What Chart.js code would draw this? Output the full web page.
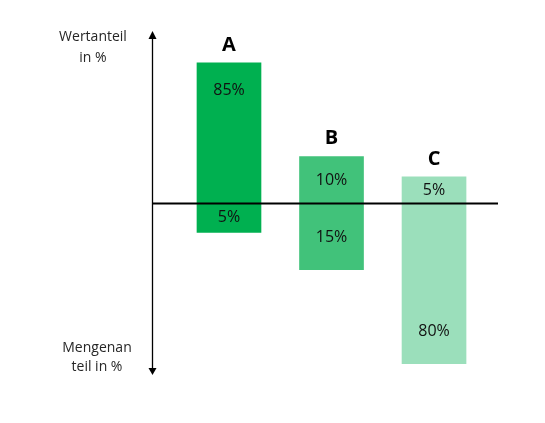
<!DOCTYPE html>
<html lang="de">
<head>
    <meta charset="UTF-8">
    <title>ABC-Analyse</title>
    <script src="https://cdn.jsdelivr.net/npm/chart.js"></script>
    <style>
        html, body { margin: 0; padding: 0; background: #fff; }
        #wrap { width: 545px; height: 423px; }
    </style>
</head>
<body>
<div id="wrap"><canvas id="abcChart"></canvas></div>
<script>
    // Klassen und Anteile (Beschriftung)
    const categories = ["A", "B", "C"];
    const valueShare = [85, 10, 5];      // Wertanteil in %
    const quantityShare = [5, 15, 80];   // Mengenanteil in %
    // gezeichnete Balkenausdehnung (schematisch, nicht maßstäblich)
    const barTop = [82, 27.3, 15.5];
    const barBottom = [-16.8, -38.6, -93.4];
    const barColors = ["#00b050", "#41c27a", "#9bdfbb"];

    const FONT = "'Open Sans', 'Liberation Sans', sans-serif";

    const decorations = {
        id: "decorations",
        afterDatasetsDraw(chart) {
            const { ctx, chartArea, scales } = chart;
            const x = scales.x, y = scales.y;
            const zero = y.getPixelForValue(0);
            const axisX = Math.round(chartArea.left) + 0.5;

            ctx.save();
            // Nulllinie
            ctx.strokeStyle = "#000";
            ctx.lineWidth = 2;
            ctx.beginPath();
            ctx.moveTo(chartArea.left, zero);
            ctx.lineTo(chartArea.right, zero);
            ctx.stroke();

            // senkrechte Achse mit Pfeilen
            ctx.lineWidth = 1.3;
            ctx.beginPath();
            ctx.moveTo(axisX, chartArea.top + 6);
            ctx.lineTo(axisX, chartArea.bottom - 6);
            ctx.stroke();
            ctx.fillStyle = "#000";
            ctx.beginPath();
            ctx.moveTo(axisX, chartArea.top - 1);
            ctx.lineTo(axisX - 4, chartArea.top + 7);
            ctx.lineTo(axisX + 4, chartArea.top + 7);
            ctx.closePath();
            ctx.fill();
            ctx.beginPath();
            ctx.moveTo(axisX, chartArea.bottom);
            ctx.lineTo(axisX - 4, chartArea.bottom - 7);
            ctx.lineTo(axisX + 4, chartArea.bottom - 7);
            ctx.closePath();
            ctx.fill();

            // Achsentitel
            ctx.fillStyle = "#262626";
            ctx.font = "14px " + FONT;
            ctx.textAlign = "center";
            ctx.textBaseline = "middle";
            const tx = chartArea.left - 59;
            ctx.fillText("Wertanteil", tx, chartArea.top + 5);
            ctx.fillText("in %", tx, chartArea.top + 26);
            ctx.fillText("Mengenan", tx + 4, chartArea.bottom - 27);
            ctx.fillText("teil in %", tx + 4, chartArea.bottom - 8);

            // Balkenbeschriftungen
            categories.forEach((c, i) => {
                const cx = x.getPixelForValue(i + 1);
                const top = y.getPixelForValue(barTop[i]);
                const bottom = y.getPixelForValue(barBottom[i]);

                ctx.fillStyle = "#000";
                ctx.font = "bold 20px " + FONT;
                ctx.fillText(c, cx, top - 18);

                ctx.fillStyle = "#111";
                ctx.font = "16px " + FONT;
                const upY = Math.min((top + zero) / 2, top + 28);
                const downY = Math.max((bottom + zero) / 2, bottom - 32);
                ctx.fillText(valueShare[i] + "%", cx, upY);
                ctx.fillText(quantityShare[i] + "%", cx, downY);
            });
            ctx.restore();
        }
    };

    new Chart(document.getElementById("abcChart"), {
        type: "bar",
        data: {
            datasets: [{
                data: categories.map((c, i) => ({ x: i + 1, y: [barBottom[i], barTop[i]] })),
                backgroundColor: barColors,
                borderWidth: 0,
                borderSkipped: false,
                barThickness: 64
            }]
        },
        options: {
            responsive: true,
            maintainAspectRatio: false,
            animation: false,
            layout: { padding: { left: 152, top: 32, right: 47, bottom: 48 } },
            plugins: { legend: { display: false }, tooltip: { enabled: false } },
            scales: {
                x: { type: "linear", min: 0.249, max: 3.624, offset: false, display: false },
                y: { min: -100, max: 100, display: false }
            }
        },
        plugins: [decorations]
    });
</script>
</body>
</html>
